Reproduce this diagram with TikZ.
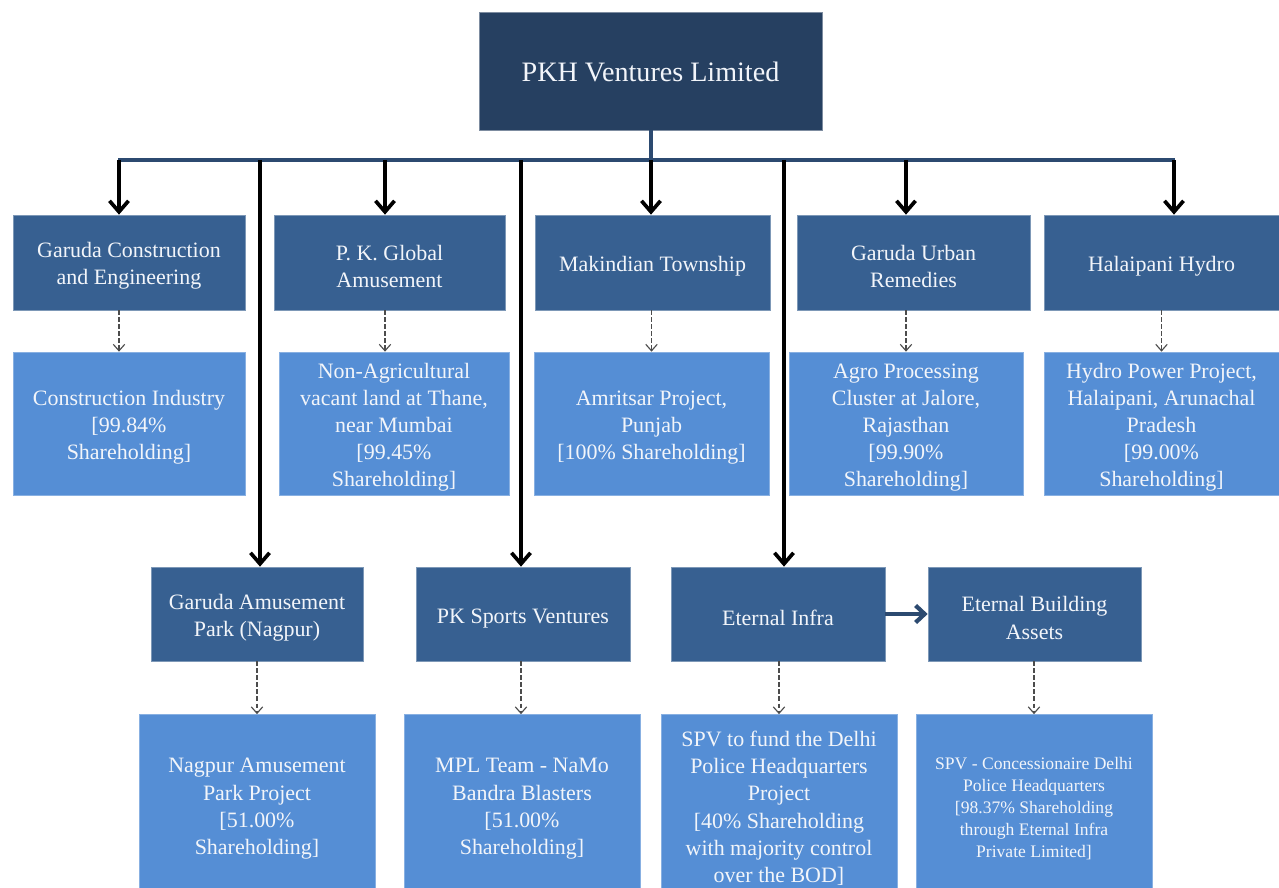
\documentclass[tikz,border=0pt]{standalone}
\usepackage{fontspec}
\setmainfont{Liberation Serif}
\usetikzlibrary{arrows.meta}

\definecolor{topnavy}{RGB}{38,64,97}
\definecolor{midblue}{RGB}{55,96,145}
\definecolor{lightblue}{RGB}{85,142,213}
\definecolor{busnavy}{RGB}{44,74,112}
\definecolor{boxtext}{RGB}{242,245,250}

% pushes the text of a box a little down
\newcommand{\tstrut}[1][4.5pt]{\rule{0pt}{\dimexpr\fontcharht\font`d+#1\relax}}

\begin{document}
\begin{tikzpicture}[x=0.02cm, y=-0.02cm,
	topbox/.style={fill=topnavy, draw=topnavy!60!white, line width=0.4pt, text=boxtext,
		inner sep=0pt, minimum width=6.86cm, minimum height=2.36cm, font=\fontsize{16}{19}\selectfont},
	unitbox/.style={fill=midblue, draw=midblue!65!white, line width=0.4pt, text=boxtext, align=center,
		inner sep=0pt, minimum height=1.9cm, font=\fontsize{12.5}{15.4}\selectfont},
	projbox/.style={fill=lightblue, draw=lightblue!70!white, line width=0.4pt, text=boxtext, align=center,
		inner sep=0pt, font=\fontsize{12.5}{15.4}\selectfont},
	drop/.style={black, line width=2.1pt, -{Straight Barb[length=2.2mm,width=3.8mm]}},
	link/.style={black!70, line width=0.85pt, dash pattern=on 2.4pt off 1.6pt,
		-{Straight Barb[length=1.3mm,width=2.3mm,line width=0.65pt]}},
	busline/.style={busnavy, line width=2pt}
]
	\useasboundingbox (0,0) rectangle (1279,888);
	\clip (0,0) rectangle (1279,888);
	
	% Holding company
	\node[topbox] (pkh) at (650.5,71) {\tstrut[2pt]PKH Ventures Limited};
	
	% First row of subsidiaries
	\node[unitbox, minimum width=4.64cm] (gce) at (129,262.5) {\tstrut Garuda Construction\\and Engineering};
	\node[unitbox, minimum width=4.62cm] (pkga) at (389.5,262.5) {\tstrut P. K. Global\\Amusement};
	\node[unitbox, minimum width=4.7cm] (mkt) at (652.5,262.5) {\tstrut Makindian Township};
	\node[unitbox, minimum width=4.66cm] (gur) at (913.5,262.5) {\tstrut Garuda Urban\\Remedies};
	\node[unitbox, minimum width=4.7cm] (hph) at (1161.5,262.5) {\tstrut Halaipani Hydro};
	
	% Projects of the first row
	\node[projbox, minimum width=4.64cm, minimum height=2.86cm] (cind) at (129,423.5)
		{\tstrut Construction Industry\\{}[99.84\%\\Shareholding]};
	\node[projbox, minimum width=4.6cm, minimum height=2.86cm] (nal) at (394,423.5)
		{\tstrut Non-Agricultural\\vacant land at Thane,\\near Mumbai\\{}[99.45\%\\Shareholding]};
	\node[projbox, minimum width=4.7cm, minimum height=2.86cm] (amr) at (651.5,423.5)
		{\tstrut Amritsar Project,\\Punjab\\{}[100\% Shareholding]};
	\node[projbox, minimum width=4.68cm, minimum height=2.86cm] (agro) at (906,423.5)
		{\tstrut Agro Processing\\Cluster at Jalore,\\Rajasthan\\{}[99.90\%\\Shareholding]};
	\node[projbox, minimum width=4.7cm, minimum height=2.86cm] (hpp) at (1161.5,423.5)
		{\tstrut Hydro Power Project,\\Halaipani, Arunachal\\Pradesh\\{}[99.00\%\\Shareholding]};
	
	% Second row of subsidiaries
	\node[unitbox, minimum width=4.24cm, minimum height=1.88cm] (gap) at (257,614) {\tstrut[5pt]Garuda Amusement\\Park (Nagpur)};
	\node[unitbox, minimum width=4.28cm, minimum height=1.88cm] (pksv) at (523,614) {\tstrut[5pt]PK Sports Ventures};
	\node[unitbox, minimum width=4.28cm, minimum height=1.88cm] (ein) at (778,614) {\tstrut[5pt]Eternal Infra};
	\node[unitbox, minimum width=4.26cm, minimum height=1.88cm] (eba) at (1034.5,614) {\tstrut[5pt]Eternal Building\\Assets};
	
	% Projects of the second row
	\node[projbox, minimum width=4.72cm, minimum height=3.7cm] (nap) at (257,807)
		{\tstrut[2pt]Nagpur Amusement\\Park Project\\{}[51.00\%\\Shareholding]};
	\node[projbox, minimum width=4.72cm, minimum height=3.7cm] (mpl) at (522,807)
		{\tstrut[2pt]MPL Team - NaMo\\Bandra Blasters\\{}[51.00\%\\Shareholding]};
	\node[projbox, minimum width=4.72cm, minimum height=3.7cm] (spvf) at (779,807)
		{\tstrut[2pt]SPV to fund the Delhi\\Police Headquarters\\Project\\{}[40\% Shareholding\\with majority control\\over the BOD]};
	\node[projbox, minimum width=4.72cm, minimum height=3.7cm, font=\fontsize{10}{12.6}\selectfont] (spvc) at (1034,807)
		{\tstrut[2pt]SPV - Concessionaire Delhi\\Police Headquarters\\{}[98.37\% Shareholding\\through Eternal Infra\\Private Limited]};
	
	% Bus under the holding company
	\coordinate (busL) at (118,160);
	\coordinate (busR) at (1175,160);
	\coordinate (b1) at (119,160);
	\coordinate (b2) at (385,160);
	\coordinate (b3) at (651,160);
	\coordinate (b4) at (906,160);
	\coordinate (b5) at (1174,160);
	\coordinate (b6) at (260,160);
	\coordinate (b7) at (521,160);
	\coordinate (b8) at (784,160);
	
	\draw[busline] (pkh.south -| b3) -- (b3);
	\draw[busline] (busL) -- (busR);
	
	% Direct holdings
	\draw[drop] (b1) -- (b1 |- gce.north);
	\draw[drop] (b2) -- (b2 |- pkga.north);
	\draw[drop] (b3) -- (b3 |- mkt.north);
	\draw[drop] (b4) -- (b4 |- gur.north);
	\draw[drop] (b5) -- (b5 |- hph.north);
	\draw[drop] (b6) -- (b6 |- gap.north);
	\draw[drop] (b7) -- (b7 |- pksv.north);
	\draw[drop] (b8) -- (b8 |- ein.north);
	
	\draw[busnavy, line width=2.4pt, -{Straight Barb[length=1.8mm,width=3.4mm]}] (ein) -- (eba);
	
	% Projects
	\draw[link] (gce.south -| b1) -- (b1 |- cind.north);
	\draw[link] (pkga.south -| b2) -- (b2 |- nal.north);
	\draw[link] (mkt.south -| amr.north) -- (amr.north);
	\draw[link] (gur.south -| agro.north) -- (agro.north);
	\draw[link] (hph.south) -- (hpp.north);
	\draw[link] (gap.south) -- (gap.south |- nap.north);
	\draw[link] (pksv.south -| b7) -- (b7 |- mpl.north);
	\draw[link] (ein.south -| spvf.north) -- (spvf.north);
	\draw[link] (eba.south -| spvc.north) -- (spvc.north);
\end{tikzpicture}
\end{document}
